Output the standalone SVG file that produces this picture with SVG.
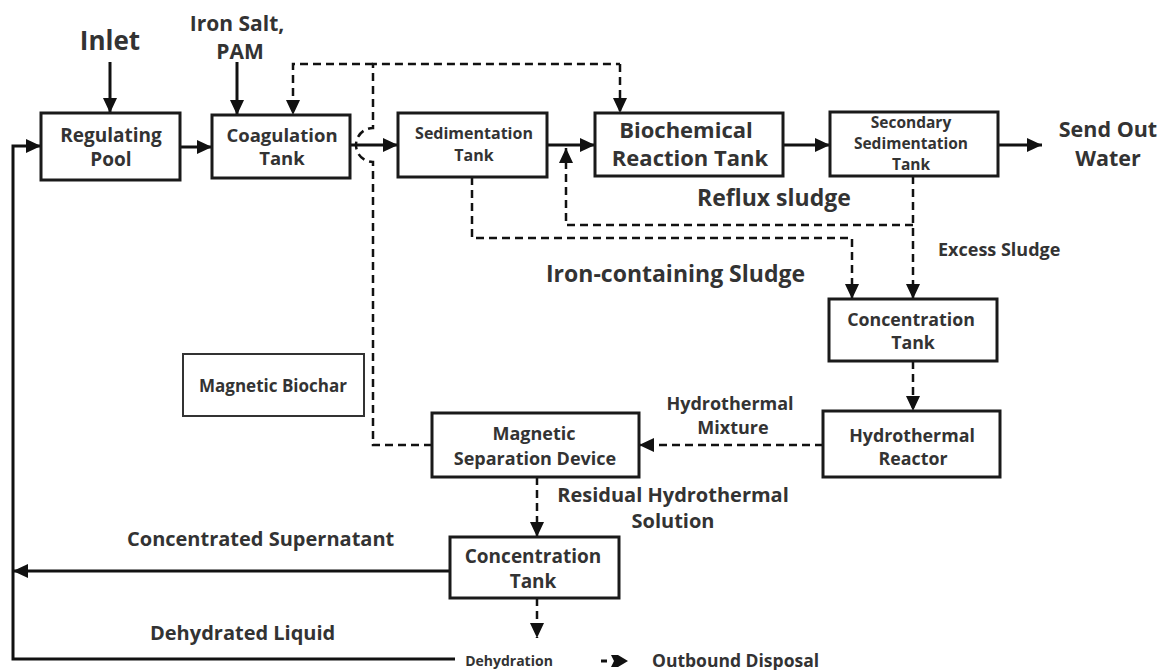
<svg xmlns="http://www.w3.org/2000/svg" width="1164" height="670" viewBox="0 0 1164 670">
<defs>
<marker id="ah" markerUnits="userSpaceOnUse" markerWidth="16" markerHeight="14" refX="15" refY="7" orient="auto">
<path d="M0,0 L15,7 L0,14 z" fill="#111"/>
</marker>
<style>
.box{fill:#fff;stroke:#1a1a1a;stroke-width:3}
.thin{fill:#fff;stroke:#333;stroke-width:2}
.t{font-family:"Open Sans","Liberation Sans",sans-serif;font-weight:700;fill:#333;text-anchor:middle}
.lab{font-family:"Open Sans","Liberation Sans",sans-serif;font-weight:700;fill:#333}
.s{fill:none;stroke:#111;stroke-width:3;marker-end:url(#ah)}
.sn{fill:none;stroke:#111;stroke-width:3}
.d{fill:none;stroke:#111;stroke-width:2.5;stroke-dasharray:8 5}
.da{fill:none;stroke:#111;stroke-width:2.5;stroke-dasharray:8 5;marker-end:url(#ah)}
</style>
</defs>
<rect width="1164" height="670" fill="#fff"/>

<g id="connectors">
<path class="s" d="M110,62 V113"/>
<path class="s" d="M237,62 V115"/>
<path class="s" d="M180,147 H212"/>
<path class="s" d="M350,145 H398"/>
<path class="s" d="M547,145 H595"/>
<path class="s" d="M783,145 H830"/>
<path class="s" d="M998,145 H1042"/>
<path class="d" d="M432,445 H373 V162 A17,17 0 0 1 373,128 V64 H620"/>
<path class="da" d="M620,64 V113"/>
<path class="da" d="M373,64 H293 V115"/>
<path class="da" d="M913,176 V299"/>
<path class="da" d="M913,225 H566 V148"/>
<path class="da" d="M472,177 V238 H852 V299"/>
<path class="da" d="M913,361 V411"/>
<path class="da" d="M823,445 H639"/>
<path class="da" d="M537,477 V537"/>
<path class="da" d="M537,598 V638"/>
<path class="s" d="M450,571 H13"/>
<path class="s" d="M455,659 H13 V146 H41"/>
<path class="sn" d="M601,661 H607"/>
<path d="M611,655 L618,655 L628,661 L618,667 L611,667 L614,661 z" fill="#111"/>
</g>

<g id="inlet"><text class="t" x="110" y="50" font-size="26">Inlet</text></g>
<g id="iron-salt"><text class="t" x="237" y="31" font-size="21">Iron Salt,</text><text class="t" x="240" y="59" font-size="21">PAM</text></g>

<g id="regulating-pool"><rect class="box" x="41" y="113" width="139" height="67"/>
<text class="t" x="111" y="142" font-size="19">Regulating</text><text class="t" x="111" y="166" font-size="19">Pool</text></g>

<g id="coagulation-tank"><rect class="box" x="212" y="115" width="138" height="63"/>
<text class="t" x="282" y="142" font-size="18.5">Coagulation</text><text class="t" x="282" y="165" font-size="18.5">Tank</text></g>

<g id="sedimentation-tank"><rect class="box" x="398" y="113" width="149" height="64"/>
<text class="t" x="474" y="139" font-size="16">Sedimentation</text><text class="t" x="474" y="161" font-size="16">Tank</text></g>

<g id="biochemical-reaction-tank"><rect class="box" x="595" y="113" width="188" height="63"/>
<text class="t" x="686" y="138" font-size="22">Biochemical</text><text class="t" x="690" y="166" font-size="22">Reaction Tank</text></g>

<g id="secondary-sedimentation-tank"><rect class="box" x="830" y="112" width="168" height="64"/>
<text class="t" x="911" y="128" font-size="15.5">Secondary</text><text class="t" x="911" y="149" font-size="15.5">Sedimentation</text><text class="t" x="911" y="170" font-size="15.5">Tank</text></g>

<g id="send-out-water"><text class="t" x="1108" y="137" font-size="21.5">Send Out</text><text class="t" x="1108" y="166" font-size="21.5">Water</text></g>

<g id="reflux-sludge"><text class="lab" x="697" y="206" font-size="23">Reflux sludge</text></g>
<g id="excess-sludge"><text class="lab" x="938" y="256" font-size="18">Excess Sludge</text></g>
<g id="iron-containing-sludge"><text class="lab" x="546" y="282" font-size="23">Iron-containing Sludge</text></g>

<g id="concentration-tank-1"><rect class="box" x="829" y="299" width="168" height="62"/>
<text class="t" x="911" y="326" font-size="17.8">Concentration</text><text class="t" x="913" y="349" font-size="17.8">Tank</text></g>

<g id="hydrothermal-reactor"><rect class="box" x="823" y="411" width="177" height="66"/>
<text class="t" x="912" y="442" font-size="17.8">Hydrothermal</text><text class="t" x="913" y="465" font-size="17.8">Reactor</text></g>

<g id="hydrothermal-mixture"><text class="t" x="730" y="410" font-size="18">Hydrothermal</text><text class="t" x="733" y="434" font-size="18">Mixture</text></g>

<g id="magnetic-biochar"><rect class="thin" x="183" y="354" width="181" height="62"/>
<text class="t" x="273" y="392" font-size="17">Magnetic Biochar</text></g>

<g id="magnetic-separation-device"><rect class="box" x="432" y="413" width="207" height="64"/>
<text class="t" x="534" y="440" font-size="18">Magnetic</text><text class="t" x="535" y="465" font-size="18">Separation Device</text></g>

<g id="residual-hydrothermal-solution"><text class="t" x="673" y="502" font-size="20">Residual Hydrothermal</text><text class="t" x="673" y="528" font-size="20">Solution</text></g>

<g id="concentrated-supernatant"><text class="lab" x="127" y="546" font-size="20">Concentrated Supernatant</text></g>

<g id="concentration-tank-2"><rect class="box" x="450" y="537" width="169" height="61"/>
<text class="t" x="533" y="563" font-size="19">Concentration</text><text class="t" x="533" y="588" font-size="19">Tank</text></g>

<g id="dehydrated-liquid"><text class="lab" x="150" y="640" font-size="20">Dehydrated Liquid</text></g>
<g id="dehydration"><text class="t" x="509" y="666" font-size="14">Dehydration</text></g>
<g id="outbound-disposal"><text class="lab" x="652" y="667" font-size="17.5">Outbound Disposal</text></g>
</svg>
